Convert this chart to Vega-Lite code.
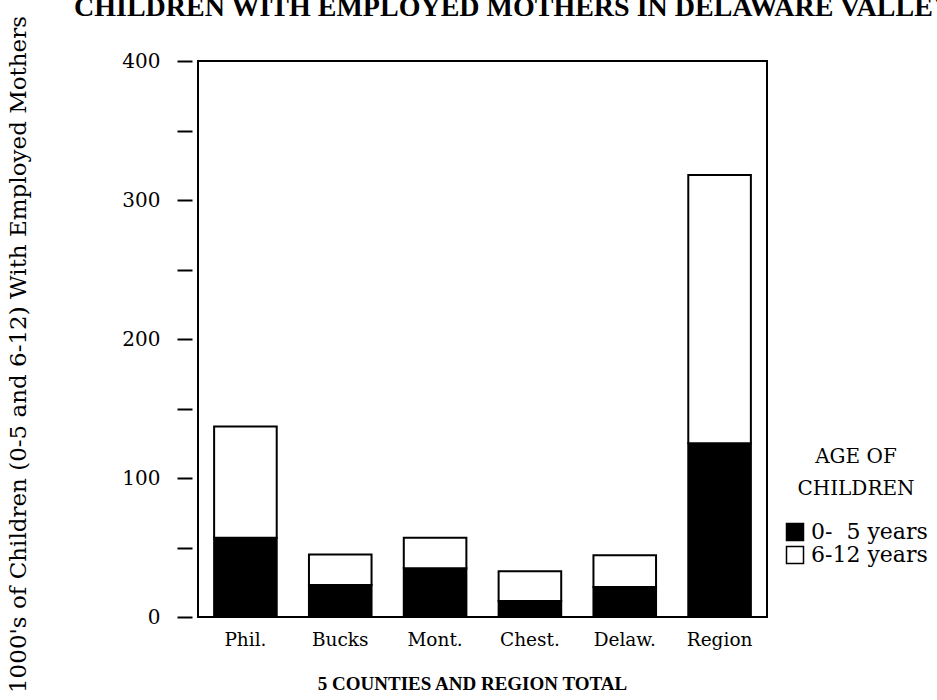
{
  "$schema": "https://vega.github.io/schema/vega-lite/v6.json",
  "autosize": {"type": "none"},
  "padding": {"left": 198, "top": 61, "right": 170, "bottom": 83},
  "width": 569,
  "height": 556,
  "background": "white",
  "title": {
    "text": "CHILDREN WITH EMPLOYED MOTHERS IN DELAWARE VALLEY",
    "anchor": "start",
    "frame": "group",
    "orient": "top",
    "font": "Liberation Serif",
    "fontSize": 28,
    "fontWeight": "bold",
    "color": "black",
    "baseline": "alphabetic",
    "offset": 0,
    "dx": -124,
    "dy": 29
  },
  "data": {
    "values": [
      {"area": "Phil.", "age": "0-5 years", "children": 57},
      {"area": "Phil.", "age": "6-12 years", "children": 80},
      {"area": "Bucks", "age": "0-5 years", "children": 23},
      {"area": "Bucks", "age": "6-12 years", "children": 22},
      {"area": "Mont.", "age": "0-5 years", "children": 35},
      {"area": "Mont.", "age": "6-12 years", "children": 22},
      {"area": "Chest.", "age": "0-5 years", "children": 11.5},
      {"area": "Chest.", "age": "6-12 years", "children": 21.5},
      {"area": "Delaw.", "age": "0-5 years", "children": 21.5},
      {"area": "Delaw.", "age": "6-12 years", "children": 23},
      {"area": "Region", "age": "0-5 years", "children": 125},
      {"area": "Region", "age": "6-12 years", "children": 193}
    ]
  },
  "mark": {"type": "bar", "stroke": "black", "strokeWidth": 2},
  "encoding": {
    "x": {
      "field": "area",
      "type": "nominal",
      "sort": ["Phil.", "Bucks", "Mont.", "Chest.", "Delaw.", "Region"],
      "scale": {"paddingInner": 0.34, "paddingOuter": 0.17},
      "axis": {
        "title": "5 COUNTIES AND REGION TOTAL",
        "titleFont": "Liberation Serif",
        "titleFontWeight": "bold",
        "titleFontSize": 19,
        "titleColor": "black",
        "titlePadding": 26,
        "titleX": 274,
        "labelFont": "DejaVu Serif",
        "labelFontSize": 18.5,
        "labelColor": "black",
        "labelAngle": 0,
        "labelPadding": 13,
        "domain": false,
        "ticks": false
      }
    },
    "y": {
      "field": "children",
      "type": "quantitative",
      "stack": "zero",
      "scale": {"domain": [0, 400], "nice": false},
      "axis": {
        "title": "1000's of Children (0-5 and 6-12) With Employed Mothers",
        "titleFont": "DejaVu Serif",
        "titleFontWeight": "normal",
        "titleFontSize": 23,
        "titleColor": "black",
        "titleX": -174,
        "titleY": 293,
        "titleBaseline": "middle",
        "values": [0, 50, 100, 150, 200, 250, 300, 350, 400],
        "labelExpr": "datum.value % 100 === 0 ? datum.label : ''",
        "labelFont": "DejaVu Serif",
        "labelFontSize": 20,
        "labelColor": "black",
        "labelPadding": 17,
        "offset": 6,
        "domain": false,
        "grid": false,
        "tickSize": 15,
        "tickWidth": 2,
        "tickColor": "black"
      }
    },
    "color": {
      "field": "age",
      "type": "nominal",
      "scale": {"domain": ["0-5 years", "6-12 years"], "range": ["black", "white"]},
      "legend": {
        "title": ["AGE OF", "CHILDREN"],
        "orient": "none",
        "legendX": 586,
        "legendY": 386,
        "padding": 0,
        "titleFont": "DejaVu Serif",
        "titleFontWeight": "normal",
        "titleFontSize": 20,
        "titleLineHeight": 32,
        "titleColor": "black",
        "titleAnchor": "middle",
        "titleAlign": "center",
        "titlePadding": 22,
        "labelExpr": "datum.label == '0-5 years' ? '0-\u00a0\u00a05 years' : datum.label",
        "labelFont": "DejaVu Serif",
        "labelFontSize": 22,
        "labelColor": "black",
        "labelOffset": 5,
        "symbolType": "square",
        "symbolSize": 289,
        "symbolStrokeColor": "black",
        "symbolStrokeWidth": 1.5,
        "rowPadding": -2,
        "labelLimit": 300
      }
    },
    "order": {"field": "age", "sort": "ascending"}
  },
  "config": {
    "view": {"stroke": "black", "strokeWidth": 2}
  }
}
